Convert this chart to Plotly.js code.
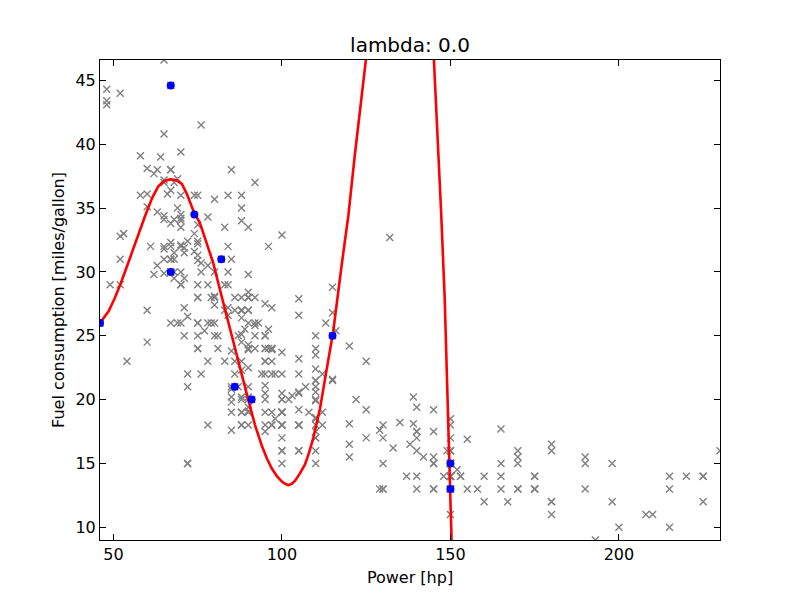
<!DOCTYPE html>
<html>
<head>
<meta charset="utf-8">
<script src="https://cdn.plot.ly/plotly-3.0.1.min.js"></script>
<style>
  html, body { margin: 0; padding: 0; background: #fff; }
  #chart { width: 800px; height: 600px; }
</style>
</head>
<body>
<div id="chart"></div>
<script>
// auto-mpg: power [hp] vs fuel consumption [mpg]
const horsepower = [
  130,165,150,150,140,198,220,215,225,190,170,160,150,225,95,95,97,85,88,46,
  87,90,95,113,90,215,200,210,193,88,90,95,100,105,100,88,100,165,175,153,
  150,180,170,175,110,72,100,88,86,90,70,76,65,69,60,70,95,80,54,90,
  86,165,175,150,153,150,208,155,160,190,97,150,130,140,150,112,76,87,69,86,
  92,97,80,88,175,150,145,137,150,198,150,158,150,215,225,175,105,100,100,88,
  95,46,150,167,170,180,100,88,72,94,90,85,107,90,145,230,49,75,91,112,
  150,110,122,180,95,100,100,67,80,65,75,100,110,105,140,150,150,140,150,83,
  67,78,52,61,75,75,75,97,93,67,95,105,72,72,170,145,150,148,110,105,
  110,95,110,110,129,75,83,100,78,96,71,97,97,70,90,95,88,98,115,53,
  86,81,92,79,83,140,150,120,152,100,105,81,90,52,60,70,53,100,78,110,
  95,71,70,75,72,102,150,88,108,120,180,145,130,150,68,80,58,96,70,145,
  110,145,130,110,105,100,98,180,170,190,149,78,88,75,89,63,83,67,78,97,
  110,110,48,66,52,70,60,110,140,139,105,95,85,88,100,90,105,85,110,120,
  145,165,139,140,68,95,97,75,95,105,85,97,103,125,115,133,71,68,115,85,
  88,90,110,130,129,138,135,155,142,125,150,71,65,80,80,77,125,71,90,70,
  70,65,69,90,115,115,90,76,60,70,65,90,88,90,90,78,90,75,92,75,
  65,105,65,48,48,67,67,67,67,62,132,100,88,72,84,84,92,110,84,58,
  64,60,67,65,62,68,63,65,65,74,75,75,100,74,80,76,116,120,110,105,
  88,85,88,88,88,85,84,90,92,74,68,68,63,70,88,75,70,67,67,67,
  110,85,92,112,96,84,90,86,52,84,79,82
];
const mpg = [
  18,15,18,16,17,15,14,14,14,15,15,14,15,14,24,22,18,21,27,26,
  25,24,25,26,21,10,10,11,9,27,28,25,19,16,17,19,18,14,14,14,
  14,12,13,13,18,22,19,18,23,28,30,30,31,35,27,26,24,25,23,20,
  21,13,14,15,14,17,11,13,12,13,19,15,13,13,14,18,22,21,26,22,
  28,23,28,27,13,14,13,14,15,12,13,13,14,13,12,13,18,16,18,18,
  23,26,11,12,13,12,18,20,21,22,18,19,21,26,15,16,29,24,20,19,
  15,24,20,11,20,19,15,31,26,32,25,16,16,18,16,13,14,14,14,29,
  26,26,31,32,28,24,26,24,26,31,19,18,15,15,16,15,16,14,17,16,
  15,18,21,20,13,29,23,20,23,24,25,24,18,29,19,23,23,22,25,33,
  28,25,25,26,27,17.5,16,15.5,14.5,22,22,24,22.5,29,24.5,29,33,20,18,18.5,
  17.5,29.5,32,28,26.5,20,13,19,19,16.5,16.5,13,13,13,31.5,30,36,25.5,33.5,17.5,
  17,15.5,15,17.5,20.5,19,18.5,16,15.5,15.5,16,29,24.5,26,25.5,30.5,33.5,30,30.5,22,
  21.5,21.5,43.1,36.1,32.8,39.4,36.1,19.9,19.4,20.2,19.2,20.5,20.2,25.1,20.5,19.4,20.6,20.8,18.6,18.1,
  19.2,17.7,18.1,17.5,30,27.5,27.2,30.9,21.1,23.2,23.8,23.9,20.3,17,21.6,16.2,31.5,29.5,21.5,19.8,
  22.3,20.2,20.6,17,17.6,16.5,18.2,16.9,15.5,19.2,18.5,31.9,34.1,35.7,27.4,25.4,23,27.2,23.9,34.2,
  34.5,31.8,37.3,28.4,28.8,26.8,33.5,41.5,38.1,32.1,37.2,28,26.4,24.3,19.1,34.3,29.8,31.3,37,32.2,
  46.6,27.9,40.8,44.3,43.4,36.4,30,44.6,33.8,29.8,32.7,23.7,35,32.4,27.2,26.6,25.8,23.5,30,39.1,
  39,35.1,32.3,37,37.7,34.1,34.7,34.4,29.9,33,33.7,32.4,32.9,31.6,28.1,30.7,25.4,24.2,22.4,26.6,
  20.2,17.6,28,27,34,31,29,27,24,36,37,31,38,36,36,36,34,38,32,38,
  25,38,26,22,32,36,27,27,44,32,28,31
];

// training points (blue)
const trainHp = [46, 67, 67, 74, 82, 86, 91, 115, 150, 150];
const trainMpg = [26, 44.6, 30, 34.5, 31, 21, 20, 25, 15, 13];

// fitted polynomial, lambda = 0 (leaves the frame between ~125 and ~145 hp)
const curveHp = [
  46, 47.2, 48.5, 50.3, 52, 54.5, 56.9, 59.4, 61.5, 63.3, 65, 66.8, 68.5, 70.3,
  71.8, 73.7, 75.7, 77.7, 79.6, 81.6, 83.6, 85.6, 87.6, 89.5, 90.7, 92, 94, 95.5, 97,
  98.5, 99.9, 100.9, 101.9, 102.9, 103.9, 105.3, 106.8, 108, 109.3, 111.3, 112.7, 115.2, 117.7, 119.7, 121.6,
  123.6, 124.9, 126, 144.8, 145.1, 146.3, 147.3, 148.3, 149, 149.8, 150.3, 150.5
];
const curveMpg = [
  26, 26.4, 26.9, 27.9, 29, 30.8, 32.6, 34.4, 35.8, 36.7, 37.1, 37.25, 37.2, 36.9,
  36.1, 34.8, 33.8, 32.2, 30.7, 28.6, 26.5, 24.4, 22.3, 20.5, 19.3, 18, 16.4, 15.4, 14.6,
  14, 13.6, 13.4, 13.3, 13.4, 13.65, 14.2, 14.9, 15.8, 17, 19.3, 21.5, 25.3, 30.5, 34.4, 39.1,
  43.8, 46.6, 50, 50, 46.6, 40.4, 34.3, 27.9, 21.5, 14.1, 9, 7.5
];

const font = "DejaVu Sans, sans-serif";

const traces = [
  {
    x: horsepower, y: mpg,
    type: "scatter", mode: "markers",
    marker: { symbol: "x-thin", size: 7, color: "gray", line: { color: "gray", width: 1.4 } },
    hoverinfo: "skip"
  },
  {
    x: curveHp, y: curveMpg,
    type: "scatter", mode: "lines",
    line: { color: "#ff0000", width: 2.6 },
    hoverinfo: "skip"
  },
  {
    x: trainHp, y: trainMpg,
    type: "scatter", mode: "markers",
    marker: { symbol: "circle", size: 8, color: "#0000ff", line: { width: 0 } },
    hoverinfo: "skip"
  }
];

const axisBase = {
  showline: true, linecolor: "black", linewidth: 1, mirror: "ticks",
  ticks: "inside", ticklen: 6, tickwidth: 1, tickcolor: "black",
  showgrid: false, zeroline: false,
  tickfont: { family: font, size: 16, color: "black" }
};

const layout = {
  width: 800, height: 600,
  paper_bgcolor: "white", plot_bgcolor: "white",
  showlegend: false,
  margin: { l: 100, r: 80, t: 60, b: 60 },
  title: {
    text: "lambda: 0.0",
    font: { family: font, size: 20, color: "black" },
    x: 0.5125, xanchor: "center", y: 0.925, yanchor: "middle"
  },
  xaxis: {
    ...axisBase,
    range: [46, 230], tick0: 0, dtick: 50,
    title: { text: "Power [hp]", font: { family: font, size: 16, color: "black" }, standoff: 8 }
  },
  yaxis: {
    ...axisBase,
    range: [9, 46.6], tick0: 0, dtick: 5,
    title: { text: "Fuel consumption [miles/gallon]", font: { family: font, size: 16, color: "black" }, standoff: 6 }
  }
};

Plotly.newPlot("chart", traces, layout, { staticPlot: true, displayModeBar: false });
</script>
</body>
</html>
